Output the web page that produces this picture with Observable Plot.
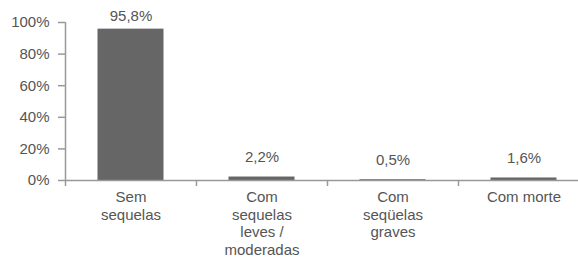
<!DOCTYPE html>
<html>
<head>
<meta charset="utf-8">
<script src="https://cdn.jsdelivr.net/npm/d3@7"></script>
<script src="https://cdn.jsdelivr.net/npm/@observablehq/plot@0.6"></script>
<style>
  html, body { margin: 0; padding: 0; background: #fff; }
</style>
</head>
<body>
<div id="chart"></div>
<script>
const categories = ["Sem sequelas", "Com sequelas leves / moderadas", "Com seqüelas graves", "Com morte"];
const tickLabels = ["Sem\nsequelas", "Com\nsequelas\nleves /\nmoderadas", "Com\nseqüelas\ngraves", "Com morte"];
const values = [95.8, 2.2, 0.5, 1.6];
const valueLabels = ["95,8%", "2,2%", "0,5%", "1,6%"];
const yTicks = [0, 20, 40, 60, 80, 100];

const data = categories.map((c, i) => ({cat: c, value: values[i], label: valueLabels[i], tick: tickLabels[i]}));

const chart = Plot.plot({
  width: 578,
  height: 257,
  marginLeft: 65,
  marginRight: -11,
  marginTop: 22,
  marginBottom: 77,
  style: {fontFamily: "'Liberation Sans', Arial, sans-serif", fontSize: "15px", color: "#555", background: "#fff"},
  x: {type: "band", domain: categories, padding: 0, label: null},
  y: {domain: [0, 100], label: null},
  marks: [
    Plot.barY(data, {x: "cat", y: "value", fill: "#666", insetLeft: 32.5, insetRight: 32.5}),
    Plot.ruleY([0], {stroke: "#999", strokeWidth: 1.5}),
    Plot.ruleX([categories[0]], {y1: 0, y2: 100, dx: -65.5, stroke: "#999", strokeWidth: 1.5}),
    Plot.axisY({ticks: yTicks, tickFormat: d => d + "%", tickSize: 7, tickPadding: 9, stroke: "#999", strokeWidth: 1.5, fill: "#555", fontSize: 15, label: null}),
    Plot.axisX({tickSize: 6, tickFormat: null, dx: -65.5, stroke: "#999", strokeWidth: 1.5, label: null}),
    Plot.axisX({tickSize: 0, tickPadding: 9, tickFormat: (d, i) => tickLabels[i], lineHeight: 1.17, fill: "#555", fontSize: 15, label: null}),
    Plot.text(data.filter(d => d.value > 50), {x: "cat", y: "value", text: "label", dy: -13, fill: "#555", fontSize: 15}),
    Plot.text(data.filter(d => d.value <= 50), {x: "cat", y: "value", text: "label", dy: -20, fill: "#555", fontSize: 15})
  ]
});
document.getElementById("chart").appendChild(chart);
</script>
</body>
</html>
